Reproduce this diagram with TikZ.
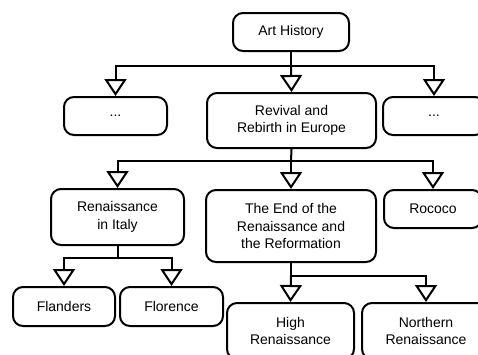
\documentclass[tikz,border=0pt]{standalone}
\usepackage{fontspec}
\setmainfont{Liberation Sans}
\usetikzlibrary{arrows.meta}
\begin{document}
\begin{tikzpicture}[x=1pt,y=-1pt,
  box/.style={draw,line width=2pt,rounded corners=10pt,align=center,inner sep=0pt,
    font=\fontsize{14}{17.5}\selectfont,fill=white},
  conn/.style={line width=2pt,-{Triangle[open,length=17pt,width=22pt,line width=2pt]}},
  trunk/.style={line width=2pt}]
\useasboundingbox (0,0) rectangle (478,354);
\clip (0,0) rectangle (478,354);
% nodes
\node[box,minimum width=116pt,minimum height=38pt] (art) at (291,32) {Art History};
\node[box,minimum width=103pt,minimum height=38pt] (dotsL) at (115.5,116) {...};
\node[box,minimum width=169pt,minimum height=55pt] (rev) at (291.5,120.5) {Revival and\\Rebirth in Europe};
\node[box,minimum width=102pt,minimum height=38pt] (dotsR) at (434,116) {...};
\node[box,minimum width=133pt,minimum height=56pt] (italy) at (117.5,217) {Renaissance\\in Italy};
\node[box,minimum width=170pt,minimum height=72pt] (end) at (291,226) {The End of the\\Renaissance and\\the Reformation};
\node[box,minimum width=98pt,minimum height=38pt] (roco) at (433,209) {Rococo};
\node[box,minimum width=102pt,minimum height=39pt] (fla) at (64,306.5) {Flanders};
\node[box,minimum width=103pt,minimum height=39pt] (flo) at (171.5,306.5) {Florence};
\node[box,minimum width=127pt,minimum height=56pt] (high) at (290.5,331) {High\\Renaissance};
\node[box,minimum width=128pt,minimum height=56pt] (north) at (426,331) {Northern\\Renaissance};
% junctions
\coordinate (j1) at (291,66);
\coordinate (j2) at (291,161);
\coordinate (j3) at (117.5,258);
\coordinate (j4) at (291,276);
% connectors
\draw[trunk] (art.south) -- (j1);
\draw[conn] (j1) -| (dotsL.north);
\draw[conn] (j1) -- (rev.north);
\draw[conn] (j1) -| (dotsR.north);
\draw[trunk] (rev.south) -- (j2);
\draw[conn] (j2) -| (italy.north);
\draw[conn] (j2) -- (end.north);
\draw[conn] (j2) -| (roco.north);
\draw[trunk] (italy.south) -- (j3);
\draw[conn] (j3) -| (fla.north);
\draw[conn] (j3) -| (flo.north);
\draw[trunk] (end.south) -- (j4);
\draw[conn] (j4) -- (high.north);
\draw[conn] (j4) -| (north.north);
\end{tikzpicture}
\end{document}
